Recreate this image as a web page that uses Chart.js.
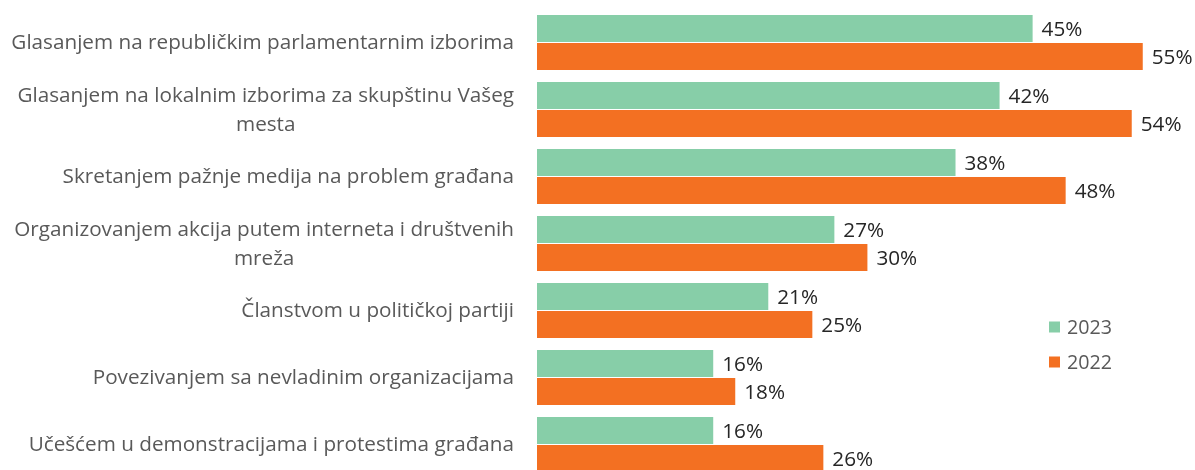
<!DOCTYPE html>
<html lang="sr">
<head>
<meta charset="UTF-8">
<title>Načini uticaja</title>
<script src="https://cdn.jsdelivr.net/npm/chart.js"></script>
<style>
  html, body { margin: 0; padding: 0; background: #fff; overflow: hidden; }
  #wrap { position: relative; width: 1195px; height: 478px; }
</style>
</head>
<body>
<div id="wrap"><canvas id="myChart"></canvas></div>
<script>
// categories (multi-line labels as arrays)
const categories = [
  ['Glasanjem na republičkim parlamentarnim izborima'],
  ['Glasanjem na lokalnim izborima za skupštinu Vašeg', 'mesta'],
  ['Skretanjem pažnje medija na problem građana'],
  ['Organizovanjem akcija putem interneta i društvenih', 'mreža'],
  ['Članstvom u političkoj partiji'],
  ['Povezivanjem sa nevladinim organizacijama'],
  ['Učešćem u demonstracijama i protestima građana']
];
const seriesNames = ['2023', '2022'];
const values2023 = [45, 42, 38, 27, 21, 16, 16];
const values2022 = [55, 54, 48, 30, 25, 18, 26];

const green = '#87CEA8';
const orange = '#F37022';
const font = "'Open Sans', sans-serif";

// category labels drawn right aligned as a block, lines centered inside it
const categoryLabels = {
  id: 'categoryLabels',
  afterDraw(chart) {
    const ctx = chart.ctx;
    const y = chart.scales.y;
    const right = 514;
    const lineH = 29;
    ctx.save();
    ctx.font = '20.7px ' + font;
    ctx.fillStyle = '#595959';
    ctx.textBaseline = 'middle';
    ctx.textAlign = 'center';
    categories.forEach((lines, i) => {
      const w = Math.max(...lines.map(l => ctx.measureText(l).width));
      const cx = right - w / 2;
      const cy = y.getPixelForTick(i) + 1;
      lines.forEach((l, j) => {
        ctx.fillText(l, cx, cy + (j - (lines.length - 1) / 2) * lineH);
      });
    });
    ctx.restore();
  }
};

// value labels at the end of each bar
const valueLabels = {
  id: 'valueLabels',
  afterDatasetsDraw(chart) {
    const ctx = chart.ctx;
    ctx.save();
    ctx.font = '20.7px ' + font;
    ctx.fillStyle = '#262626';
    ctx.textBaseline = 'middle';
    ctx.textAlign = 'left';
    chart.data.datasets.forEach((ds, d) => {
      chart.getDatasetMeta(d).data.forEach((bar, i) => {
        ctx.fillText(ds.data[i] + '%', bar.x + 9, bar.y + 2);
      });
    });
    ctx.restore();
  }
};

// legend on the right
const sideLegend = {
  id: 'sideLegend',
  afterDraw(chart) {
    const ctx = chart.ctx;
    ctx.save();
    ctx.font = '19.7px ' + font;
    ctx.textBaseline = 'middle';
    chart.data.datasets.forEach((ds, d) => {
      const cy = 327 + d * 35;
      ctx.fillStyle = ds.backgroundColor;
      ctx.fillRect(1049, cy - 5.5, 11, 11);
      ctx.fillStyle = '#595959';
      ctx.fillText(ds.label, 1067, cy + 1);
    });
    ctx.restore();
  }
};

const ctx = document.getElementById('myChart').getContext('2d');
const myChart = new Chart(ctx, {
  type: 'bar',
  data: {
    labels: categories,
    datasets: [
      { label: seriesNames[0], data: values2023, backgroundColor: green },
      { label: seriesNames[1], data: values2022, backgroundColor: orange }
    ]
  },
  options: {
    indexAxis: 'y',
    responsive: true,
    maintainAspectRatio: false,
    animation: false,
    categoryPercentage: 0.836,
    barPercentage: 0.964,
    layout: { padding: { top: 9, bottom: 0, left: 0, right: 17 } },
    plugins: {
      legend: { display: false },
      tooltip: { enabled: false }
    },
    scales: {
      x: { display: false, min: 0, max: 58.2 },
      y: {
        grid: { display: false },
        border: { display: false },
        ticks: { display: false },
        afterFit(scale) { scale.width = 537; }
      }
    }
  },
  plugins: [categoryLabels, valueLabels, sideLegend]
});
</script>
</body>
</html>
